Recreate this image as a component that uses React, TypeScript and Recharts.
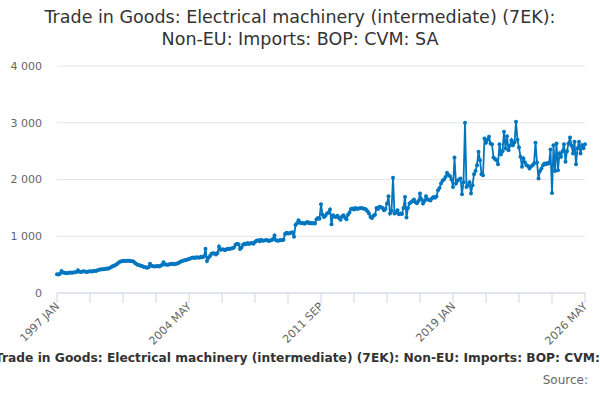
import React from 'react';
import { LineChart, Line, XAxis, YAxis, CartesianGrid } from 'recharts';

const MONTHS = ['JAN', 'FEB', 'MAR', 'APR', 'MAY', 'JUN', 'JUL', 'AUG', 'SEP', 'OCT', 'NOV', 'DEC'];
const START_YEAR = 1997;

// Monthly values (£ million), one row per year from 1997 to 2026 (Jan-May)
const importsValues: number[] = [
  330, 325, 340, 388, 360, 355, 350, 352, 358, 362, 355, 360,
  365, 372, 400, 375, 370, 378, 382, 376, 372, 380, 385, 378,
  385, 390, 388, 400, 410, 415, 420, 418, 425, 430, 428, 440,
  455, 470, 480, 495, 510, 535, 550, 560, 565, 570, 562, 568,
  570, 565, 560, 555, 530, 510, 495, 488, 480, 470, 460, 452,
  447, 455, 515, 480, 470, 468, 472, 475, 465, 480, 495, 540,
  505, 500, 498, 505, 510, 515, 508, 512, 520, 530, 545, 560,
  570, 575, 580, 590, 600, 610, 620, 625, 615, 630, 625, 620,
  640, 630, 645, 780, 565, 620, 650, 690, 700, 695, 680, 705,
  820, 760, 770, 765, 755, 770, 780, 775, 785, 790, 800, 850,
  870, 860, 775, 800, 850, 870, 860, 880, 865, 875, 880, 870,
  900, 920, 930, 910, 940, 920, 925, 930, 935, 915, 925, 930,
  950, 1015, 930, 920, 925, 935, 930, 940, 1040, 1060, 1050, 1055,
  1060, 1070, 990, 1200, 1230, 1280, 1240, 1230, 1235, 1220, 1240, 1250,
  1230, 1240, 1225, 1235, 1223, 1300, 1320, 1310, 1564, 1380, 1340, 1360,
  1399, 1420, 1470, 1211, 1370, 1350, 1340, 1360, 1320, 1290, 1350, 1370,
  1330, 1300, 1380, 1420, 1480, 1490, 1470, 1500, 1480, 1490, 1495, 1500,
  1490, 1485, 1470, 1440, 1400, 1340, 1320, 1360, 1380, 1500, 1480, 1520,
  1510, 1500, 1460, 1480, 1576, 1705, 1399, 1450, 2029, 1399, 1420, 1460,
  1388, 1400, 1390, 1500, 1693, 1329, 1500, 1576, 1600, 1620, 1646, 1600,
  1580, 1620, 1752, 1650, 1576, 1620, 1705, 1650, 1640, 1630, 1670, 1690,
  1680, 1700, 1811, 1850, 1929, 1980, 2000, 2046, 2117, 2080, 2058, 2000,
  1870, 2387, 1929, 1980, 2000, 2017, 1740, 1950, 2999, 1870, 1899, 1950,
  1752, 1900, 2093, 2150, 2252, 2487, 2340, 2093, 2076, 2722, 2646, 2700,
  2752, 2634, 2623, 2387, 2360, 2340, 2270, 2623, 2446, 2500, 2840, 2546,
  2764, 2517, 2600, 2693, 2605, 2650, 3016, 2700, 2564, 2399, 2223, 2370,
  2300, 2252, 2240, 2193, 2230, 2250, 2281, 2646, 2300, 2017, 2150, 2193,
  2250, 2281, 2270, 2290, 2281, 2528, 1764, 2605, 2150, 2634, 2164, 2458,
  2400, 2500, 2623, 2311, 2500, 2634, 2740, 2600, 2458, 2664, 2270, 2550,
  2664, 2458, 2605, 2550, 2620,
];

const categories: string[] = importsValues.map(
  (_, i) => `${START_YEAR + Math.floor(i / 12)} ${MONTHS[i % 12]}`
);

const xTickLabels = ['1997 JAN', '2004 MAY', '2011 SEP', '2019 JAN', '2026 MAY'];
const yTicks = [0, 1000, 2000, 3000, 4000];

const titleLine1 = 'Trade in Goods: Electrical machinery (intermediate) (7EK):';
const titleLine2 = 'Non-EU: Imports: BOP: CVM: SA';
const caption = 'Trade in Goods: Electrical machinery (intermediate) (7EK): Non-EU: Imports: BOP: CVM: SA';
const sourceText = 'Source:';

const data = categories.map((label, i) => ({ label, value: importsValues[i] }));

const FONT = '"DejaVu Sans", sans-serif';
const LINE_COLOR = '#0076c0';

const fmt = (v: number) => String(v).replace(/\B(?=(\d{3})+(?!\d))/g, ' ');

const XTick = (props: any) => {
  const { x, y, payload } = props;
  const showLabel = xTickLabels.includes(payload.value);
  return (
    <g>
      <line x1={x} x2={x} y1={y} y2={y + 10} stroke="#ccd6eb" strokeWidth={1} />
      {showLabel && (
        <text
          x={x + 3}
          y={y + 14}
          textAnchor="end"
          fontSize={11}
          fill="#666666"
          fontFamily={FONT}
          transform={`rotate(-45 ${x + 3} ${y + 14})`}
        >
          {payload.value}
        </text>
      )}
    </g>
  );
};

export default function App() {
  return (
    <div
      style={{
        position: 'absolute',
        left: 0,
        top: 0,
        width: 600,
        height: 400,
        overflow: 'hidden',
        background: '#ffffff',
        fontFamily: FONT,
      }}
    >
      <div
        style={{
          position: 'absolute',
          top: 6,
          left: 0,
          width: 600,
          textAlign: 'center',
          fontSize: 17.5,
          lineHeight: '22px',
          color: '#333333',
        }}
      >
        <div>{titleLine1}</div>
        <div>{titleLine2}</div>
      </div>
      <div style={{ position: 'absolute', top: 0, left: 0 }}>
        <LineChart
          width={600}
          height={400}
          data={data}
          margin={{ top: 66, right: 15, bottom: 47, left: 0 }}
        >
          <CartesianGrid horizontal={true} vertical={false} stroke="#e6e6e6" />
          <XAxis
            dataKey="label"
            scale="point"
            interval={21}
            height={60}
            axisLine={{ stroke: '#ccd6eb' }}
            tickLine={false}
            tickSize={0}
            tickMargin={0}
            tick={<XTick />}
          />
          <YAxis
            domain={[0, 4000]}
            ticks={yTicks}
            width={57}
            axisLine={false}
            tickLine={false}
            tickSize={0}
            tickMargin={15}
            tickFormatter={fmt}
            tick={{ fontSize: 11, fill: '#666666', fontFamily: FONT }}
          />
          <Line
            type="linear"
            dataKey="value"
            stroke={LINE_COLOR}
            strokeWidth={1.8}
            dot={{ r: 2, fill: LINE_COLOR, stroke: LINE_COLOR, strokeWidth: 0 }}
            activeDot={false}
            isAnimationActive={false}
          />
        </LineChart>
      </div>
      <div
        style={{
          position: 'absolute',
          top: 351,
          left: -5,
          whiteSpace: 'nowrap',
          fontSize: 12.25,
          fontWeight: 'bold',
          color: '#333333',
        }}
      >
        {caption}
      </div>
      <div
        style={{
          position: 'absolute',
          top: 373,
          right: 12,
          fontSize: 12,
          color: '#666666',
        }}
      >
        {sourceText}
      </div>
    </div>
  );
}
